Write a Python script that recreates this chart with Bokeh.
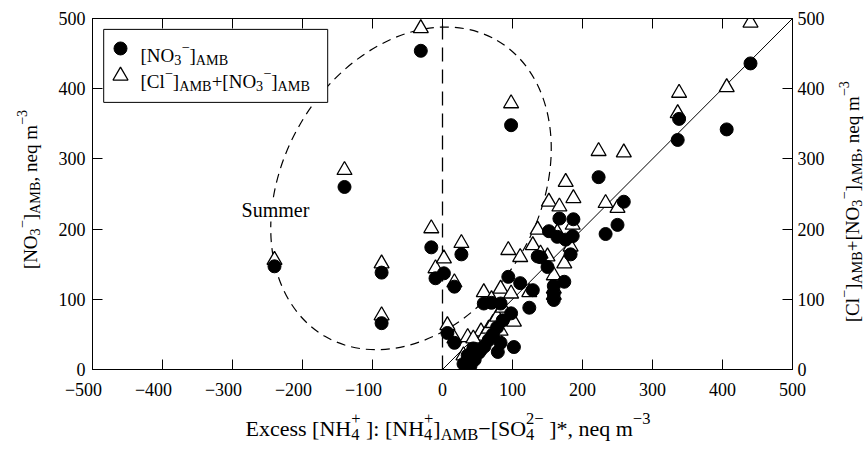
import math
from bokeh.plotting import figure
from bokeh.models import LinearAxis, FixedTicker, Label
from bokeh.layouts import row, column
from bokeh.embed import file_html
from bokeh.resources import INLINE

# ---------------- data ----------------
excess = [-240, -140, -87, -87, -31, -16, -10, 2, 17, 27, 98, 7, 17,
          440, 406, 338, 336, 223, 259, 233, 250,
          94, 111, 129, 136, 124, 102, 152, 167, 187, 176, 186, 150, 164, 183, 140,
          174, 159, 159, 159, 59, 83, 98,
          36, 30, 40, 46, 52, 55, 60, 66, 72, 78, 79, 83, 86, 35, 44, 70]
no3 = [147, 260, 138, 66, 454, 174, 130, 137, 118, 164, 348, 52, 38,
       436, 342, 357, 327, 274, 239, 193, 206,
       132, 123, 113, 161, 88, 32, 197, 215, 214, 185, 190, 146, 189, 164, 160,
       125, 119, 108, 99, 94, 94, 80,
       20, 8, 5, 14, 24, 28, 33, 42, 50, 60, 25, 38, 70, 4, 30, 95]
cl_no3 = [156, 284, 151, 77, 486, 201, 144, 158, 124, 180, 379, 63, 44,
          494, 402, 394, 365, 311, 309, 237, 230,
          170, 160, 177, 199, 110, 68, 239, 232, 244, 267, 206, 161, 195, 175, 165,
          151, 134, 115, 106, 110, 115, 108,
          46, 20, 25, 33, 40, 54, 48, 58, 66, 75, 45, 55, 88, 12, 44, 100]

x_ticks = [-500, -400, -300, -200, -100, 0, 100, 200, 300, 400, 500]
y_ticks = [0, 100, 200, 300, 400, 500]

FONT = "Liberation Serif"
NB = "\u00a0"

MAIN_H = 400
LEFT_W = 44
p = figure(frame_width=700, frame_height=351, x_range=(-500, 500), y_range=(0, 500),
           output_backend="svg", toolbar_location=None,
           min_border_left=48, min_border_right=36, min_border_top=18, min_border_bottom=31,
           background_fill_color="white", border_fill_color="white")
MAIN_W = 48 + 700 + 36
RIGHT_W = 866 - LEFT_W - MAIN_W
p.xgrid.visible = False
p.ygrid.visible = False
p.outline_line_color = "black"

bottom_axis = p.below[0]
left_axis = p.left[0]
top_axis = LinearAxis()
right_axis = LinearAxis()
p.add_layout(top_axis, "above")
p.add_layout(right_axis, "right")

x_over = {t: (("\u2212" + str(-t) + "\u2003") if t < 0 else str(t)) for t in x_ticks}
for ax in [bottom_axis, top_axis]:
    ax.ticker = FixedTicker(ticks=x_ticks)
bottom_axis.major_label_overrides = x_over
for ax in [left_axis, right_axis]:
    ax.ticker = FixedTicker(ticks=y_ticks)
for ax in [bottom_axis, top_axis, left_axis, right_axis]:
    ax.major_tick_in = 10
    ax.major_tick_out = 0
    ax.minor_tick_line_color = None
    ax.axis_line_color = "black"
    ax.major_tick_line_color = "black"
    ax.major_label_text_font = FONT
    ax.major_label_text_font_size = "18px"
    ax.major_label_text_color = "black"
top_axis.major_label_text_font_size = "1px"
top_axis.major_label_text_color = None
top_axis.major_label_standoff = 0
bottom_axis.major_label_standoff = 10
left_axis.major_label_standoff = 7
right_axis.major_label_standoff = 5

# summer region and reference lines
p.ellipse(x=[-45], y=[258], width=[489], height=[365], angle=[math.radians(59.8)],
          fill_color=None, line_color="black", line_width=1.2, line_dash="9 6")
p.segment(x0=[0], y0=[0], x1=[0], y1=[495], line_color="black", line_width=1.3, line_dash="14 8")
p.line(x=[0, 500], y=[0, 500], line_color="black", line_width=1)

# data
p.scatter(excess, cl_no3, marker="triangle", size=15, fill_color="white",
          line_color="black", line_width=1.3)
p.scatter(excess, no3, marker="circle", size=13, fill_color="black", line_color="black")

# manual legend
p.quad(left=[-484], right=[-164], bottom=[380.5], top=[484.5], fill_color="white",
       line_color="black", line_width=1)
p.scatter([-460], [457.3], marker="circle", size=13, fill_color="black", line_color="black")
p.scatter([-460], [418.5], marker="triangle", size=15, fill_color="white",
          line_color="black", line_width=1.3)

W = {' ': 250, NB: 250, '[': 333, ']': 333, 'N': 722, 'O': 722, 'H': 722, 'A': 722, 'M': 889,
     'B': 667, 'C': 667, 'S': 556, 'E': 611, 'l': 278, 'x': 500, 'c': 444, 's': 389,
     'n': 500, 'e': 444, 'q': 500, 'm': 778, 'u': 500, 'r': 333, ':': 278, ',': 250,
     '*': 500, '+': 564, '\u2212': 564}


def tw(s, size):
    return sum(W.get(ch, 500) for ch in s) * size / 1000.0


SUB = 0.75


def run_w(kind, t, size):
    if kind == "n":
        return tw(t, size)
    if kind in ("b", "p"):
        return tw(t, size * SUB)
    return max(tw(t[0], size * SUB), tw(t[1], size * SUB))


def rich(fig, x, y, runs, size, vertical=False, center=False):
    total = sum(run_w(k, t, size) for k, t in runs)
    cur = -total / 2.0 if center else 0.0
    for kind, t in runs:
        if kind == "n":
            pieces = [(t, size, 0.0)]
        elif kind == "b":
            pieces = [(t, size * SUB, -0.25 * size)]
        elif kind == "p":
            pieces = [(t, size * SUB, 0.45 * size)]
        else:
            pieces = [(t[0], size * SUB, -0.25 * size), (t[1], size * SUB, 0.45 * size)]
        for txt, fs, shift in pieces:
            if vertical:
                xo, yo, ang = -shift, cur, math.pi / 2
            else:
                xo, yo, ang = cur, shift, 0.0
            fig.add_layout(Label(x=x, y=y, x_offset=xo, y_offset=yo, text=txt, angle=ang,
                                 text_font=FONT, text_font_size="%.1fpx" % fs,
                                 text_color="black", text_align="left",
                                 text_baseline="alphabetic"))
        cur += run_w(kind, t, size)


def strip(w, h):
    f = figure(width=w, height=h, x_range=(0, w), y_range=(0, h), output_backend="svg",
               toolbar_location=None, x_axis_location=None, y_axis_location=None,
               min_border=0, background_fill_color="white", border_fill_color="white")
    f.xgrid.visible = False
    f.ygrid.visible = False
    f.outline_line_color = None
    return f


leg1 = [("n", "[NO"), ("b", "3"), ("p", "\u2212"), ("n", "]"), ("b", "AMB")]
leg2 = [("n", "[Cl"), ("p", "\u2212"), ("n", "]"), ("b", "AMB"), ("n", "+[NO"), ("b", "3"),
        ("p", "\u2212"), ("n", "]"), ("b", "AMB")]
ylab_left = leg1 + [("n", ", neq m"), ("p", "\u22123")]
ylab_right = leg2 + [("n", ", neq m"), ("p", "\u22123")]
xlab = [("n", "Excess [NH"), ("bp", ("4", "+")), ("n", NB + "]: [NH"), ("bp", ("4", "+")),
        ("n", "]"), ("b", "AMB"), ("n", "\u2212[SO"), ("bp", ("4", "2\u2212")),
        ("n", NB + "]*, neq m"), ("p", "\u22123")]

rich(p, -431.4, 447.3, leg1, 19)
rich(p, -431.4, 410.3, leg2, 19)

p.add_layout(Label(x=-238.6, y=226.5, text="Summer", text_font=FONT, text_font_size="20px",
                   text_color="black", text_align="center", text_baseline="middle",
                   background_fill_color="white"))

left_fig = strip(LEFT_W, MAIN_H)
rich(left_fig, 30, MAIN_H - 196, ylab_left, 19, vertical=True, center=True)
right_fig = strip(RIGHT_W, MAIN_H)
rich(right_fig, 852 - (LEFT_W + MAIN_W), MAIN_H - 210, ylab_right, 19, vertical=True, center=True)
BOT_H = 449 - MAIN_H
bottom_fig = strip(866, BOT_H)
rich(bottom_fig, 245, BOT_H - (426 - MAIN_H), xlab, 22)

layout = column(row(left_fig, p, right_fig, spacing=0), bottom_fig, spacing=0)

open("out.html", "w").write(file_html(layout, INLINE))
